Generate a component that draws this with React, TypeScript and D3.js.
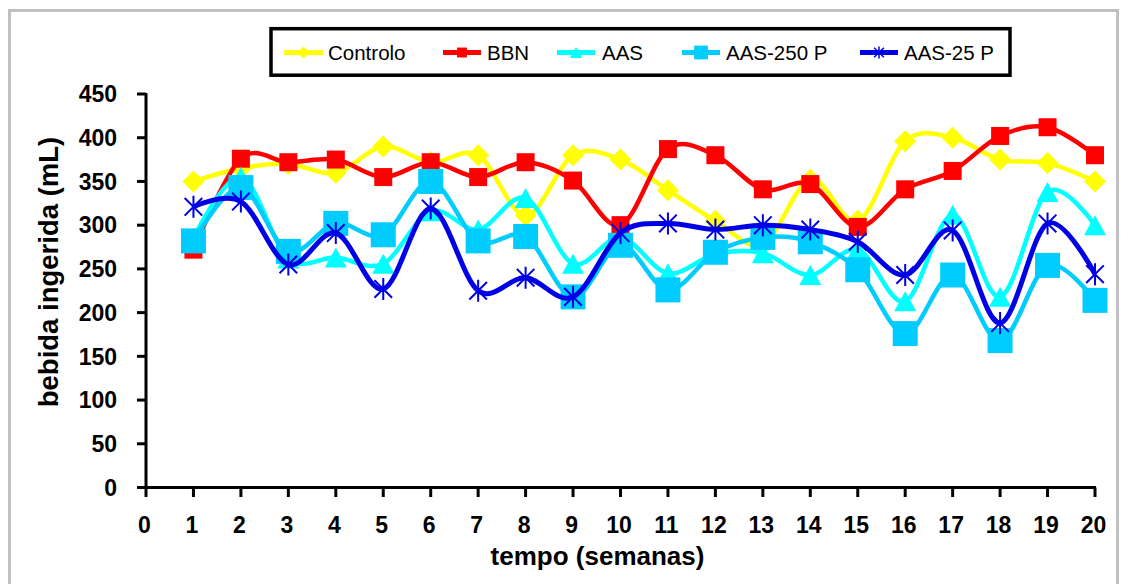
import React from "react";
import * as d3 from "d3";

const weeks = [1, 2, 3, 4, 5, 6, 7, 8, 9, 10, 11, 12, 13, 14, 15, 16, 17, 18, 19, 20];
const xTicks = d3.range(0, 21);
const yTicks = [0, 50, 100, 150, 200, 250, 300, 350, 400, 450];

const controlo = [350, 365, 370, 360, 390, 372, 380, 311, 380, 375, 340, 305, 278, 352, 305, 396, 400, 375, 371, 350];
const bbn = [272, 376, 372, 375, 355, 372, 355, 372, 351, 300, 387, 380, 341, 347, 298, 341, 362, 402, 412, 380];
const aas = [285, 355, 262, 263, 256, 316, 295, 331, 256, 286, 245, 267, 268, 243, 272, 213, 312, 218, 338, 300];
const aas250 = [282, 343, 270, 302, 289, 350, 282, 287, 218, 277, 226, 269, 286, 281, 249, 176, 243, 168, 254, 214];
const aas25 = [321, 327, 255, 291, 227, 319, 225, 240, 218, 291, 302, 295, 300, 295, 281, 243, 294, 188, 302, 244];

const seriesNames = ["Controlo", "BBN", "AAS", "AAS-250 P", "AAS-25 P"];
const seriesValues = [controlo, bbn, aas, aas250, aas25];
const seriesColors = ["#FFFF00", "#FF0000", "#00FFFF", "#00CCFF", "#0000E6"];
const seriesMarkers = ["diamond", "square", "triangle", "bigsquare", "star"];

const FONT = "'Liberation Sans', Arial, Helvetica, sans-serif";

function Marker({ type, cx, cy, color, s }: { type: string; cx: number; cy: number; color: string; s: number }) {
  if (type === "diamond") {
    const h = 11 * s;
    return <path d={`M${cx},${cy - h}L${cx + h},${cy}L${cx},${cy + h}L${cx - h},${cy}Z`} fill={color} />;
  }
  if (type === "square") {
    const h = 9 * s;
    return <rect x={cx - h} y={cy - h} width={2 * h} height={2 * h} fill={color} />;
  }
  if (type === "bigsquare") {
    const h = 12.5 * s;
    return <rect x={cx - h} y={cy - h} width={2 * h} height={2 * h} fill={color} />;
  }
  if (type === "triangle") {
    const w = 11 * s;
    const h = 10 * s;
    return <path d={`M${cx},${cy - h}L${cx + w},${cy + h}L${cx - w},${cy + h}Z`} fill={color} />;
  }
  const h = 11 * s;
  const d = h * 0.8;
  return (
    <path
      d={`M${cx},${cy - h}L${cx},${cy + h}M${cx - d},${cy - d}L${cx + d},${cy + d}M${cx - d},${cy + d}L${cx + d},${cy - d}`}
      stroke={color}
      strokeWidth={2 * Math.max(s, 0.75)}
      fill="none"
    />
  );
}

const legendLines = [
  [284, 323, 328],
  [443, 481, 487],
  [557, 595, 602],
  [682, 720, 726],
  [860, 898, 904],
];

export default function App() {
  const x = d3.scaleLinear().domain([0, 20]).range([146, 1095]);
  const y = d3.scaleLinear().domain([0, 450]).range([487.5, 94]);
  const line = d3
    .line<number>()
    .x((_, i) => x(weeks[i]))
    .y((v) => y(v))
    .curve(d3.curveCardinal.tension(0));

  return (
    <svg
      width={1124}
      height={584}
      style={{ position: "absolute", left: 0, top: 0, background: "#fff" }}
      fontFamily={FONT}
    >
      <rect x={9.5} y={10.5} width={1108} height={600} fill="#fff" stroke="#c0c0c0" strokeWidth={3} />

      {/* legend */}
      <rect x={271} y={28.7} width={739} height={46.5} fill="#fff" stroke="#000" strokeWidth={3.5} />
      {seriesNames.map((n, i) => {
        const [x1, x2, tx] = legendLines[i];
        return (
          <g key={n}>
            <line x1={x1} x2={x2} y1={52.5} y2={52.5} stroke={seriesColors[i]} strokeWidth={5} />
            <Marker type={seriesMarkers[i]} cx={(x1 + x2) / 2} cy={52.5} color={seriesColors[i]} s={0.55} />
            <text x={tx} y={60} fontSize={20.5} fill="#000">
              {n}
            </text>
          </g>
        );
      })}

      {/* series */}
      {seriesValues.map((vals, i) => (
        <g key={seriesNames[i]}>
          <path
            d={line(vals) || ""}
            fill="none"
            stroke={seriesColors[i]}
            strokeWidth={i === 4 ? 5 : 4.5}
            strokeLinejoin="round"
          />
          {vals.map((v, j) => (
            <Marker key={j} type={seriesMarkers[i]} cx={x(weeks[j])} cy={y(v)} color={seriesColors[i]} s={1} />
          ))}
        </g>
      ))}

      {/* axes */}
      <line x1={x(0)} x2={x(0)} y1={y(450) - 1} y2={y(0) + 1.5} stroke="#000" strokeWidth={3} />
      <line x1={x(0) - 1.5} x2={x(20) + 1} y1={y(0)} y2={y(0)} stroke="#000" strokeWidth={3} />
      {yTicks.map((t) => (
        <g key={"y" + t}>
          <line x1={x(0) - 9} x2={x(0)} y1={y(t)} y2={y(t)} stroke="#000" strokeWidth={3} />
          <text
            x={117}
            y={y(t)}
            dy="0.36em"
            textAnchor="end"
            fontSize={23}
            fontWeight="bold"
            fill="#000"
          >
            {t}
          </text>
        </g>
      ))}
      {xTicks.map((t) => (
        <g key={"x" + t}>
          <line x1={x(t)} x2={x(t)} y1={y(0)} y2={y(0) + 9.5} stroke="#000" strokeWidth={3} />
          <text x={x(t) - 1.5} y={533} textAnchor="middle" fontSize={23} fontWeight="bold" fill="#000">
            {t}
          </text>
        </g>
      ))}

      <text x={597.5} y={565} textAnchor="middle" fontSize={26} fontWeight="bold" fill="#000">
        tempo (semanas)
      </text>
      <text
        transform={`translate(58,272) rotate(-90)`}
        textAnchor="middle"
        fontSize={27.5}
        fontWeight="bold"
        fill="#000"
      >
        bebida ingerida (mL)
      </text>
    </svg>
  );
}
